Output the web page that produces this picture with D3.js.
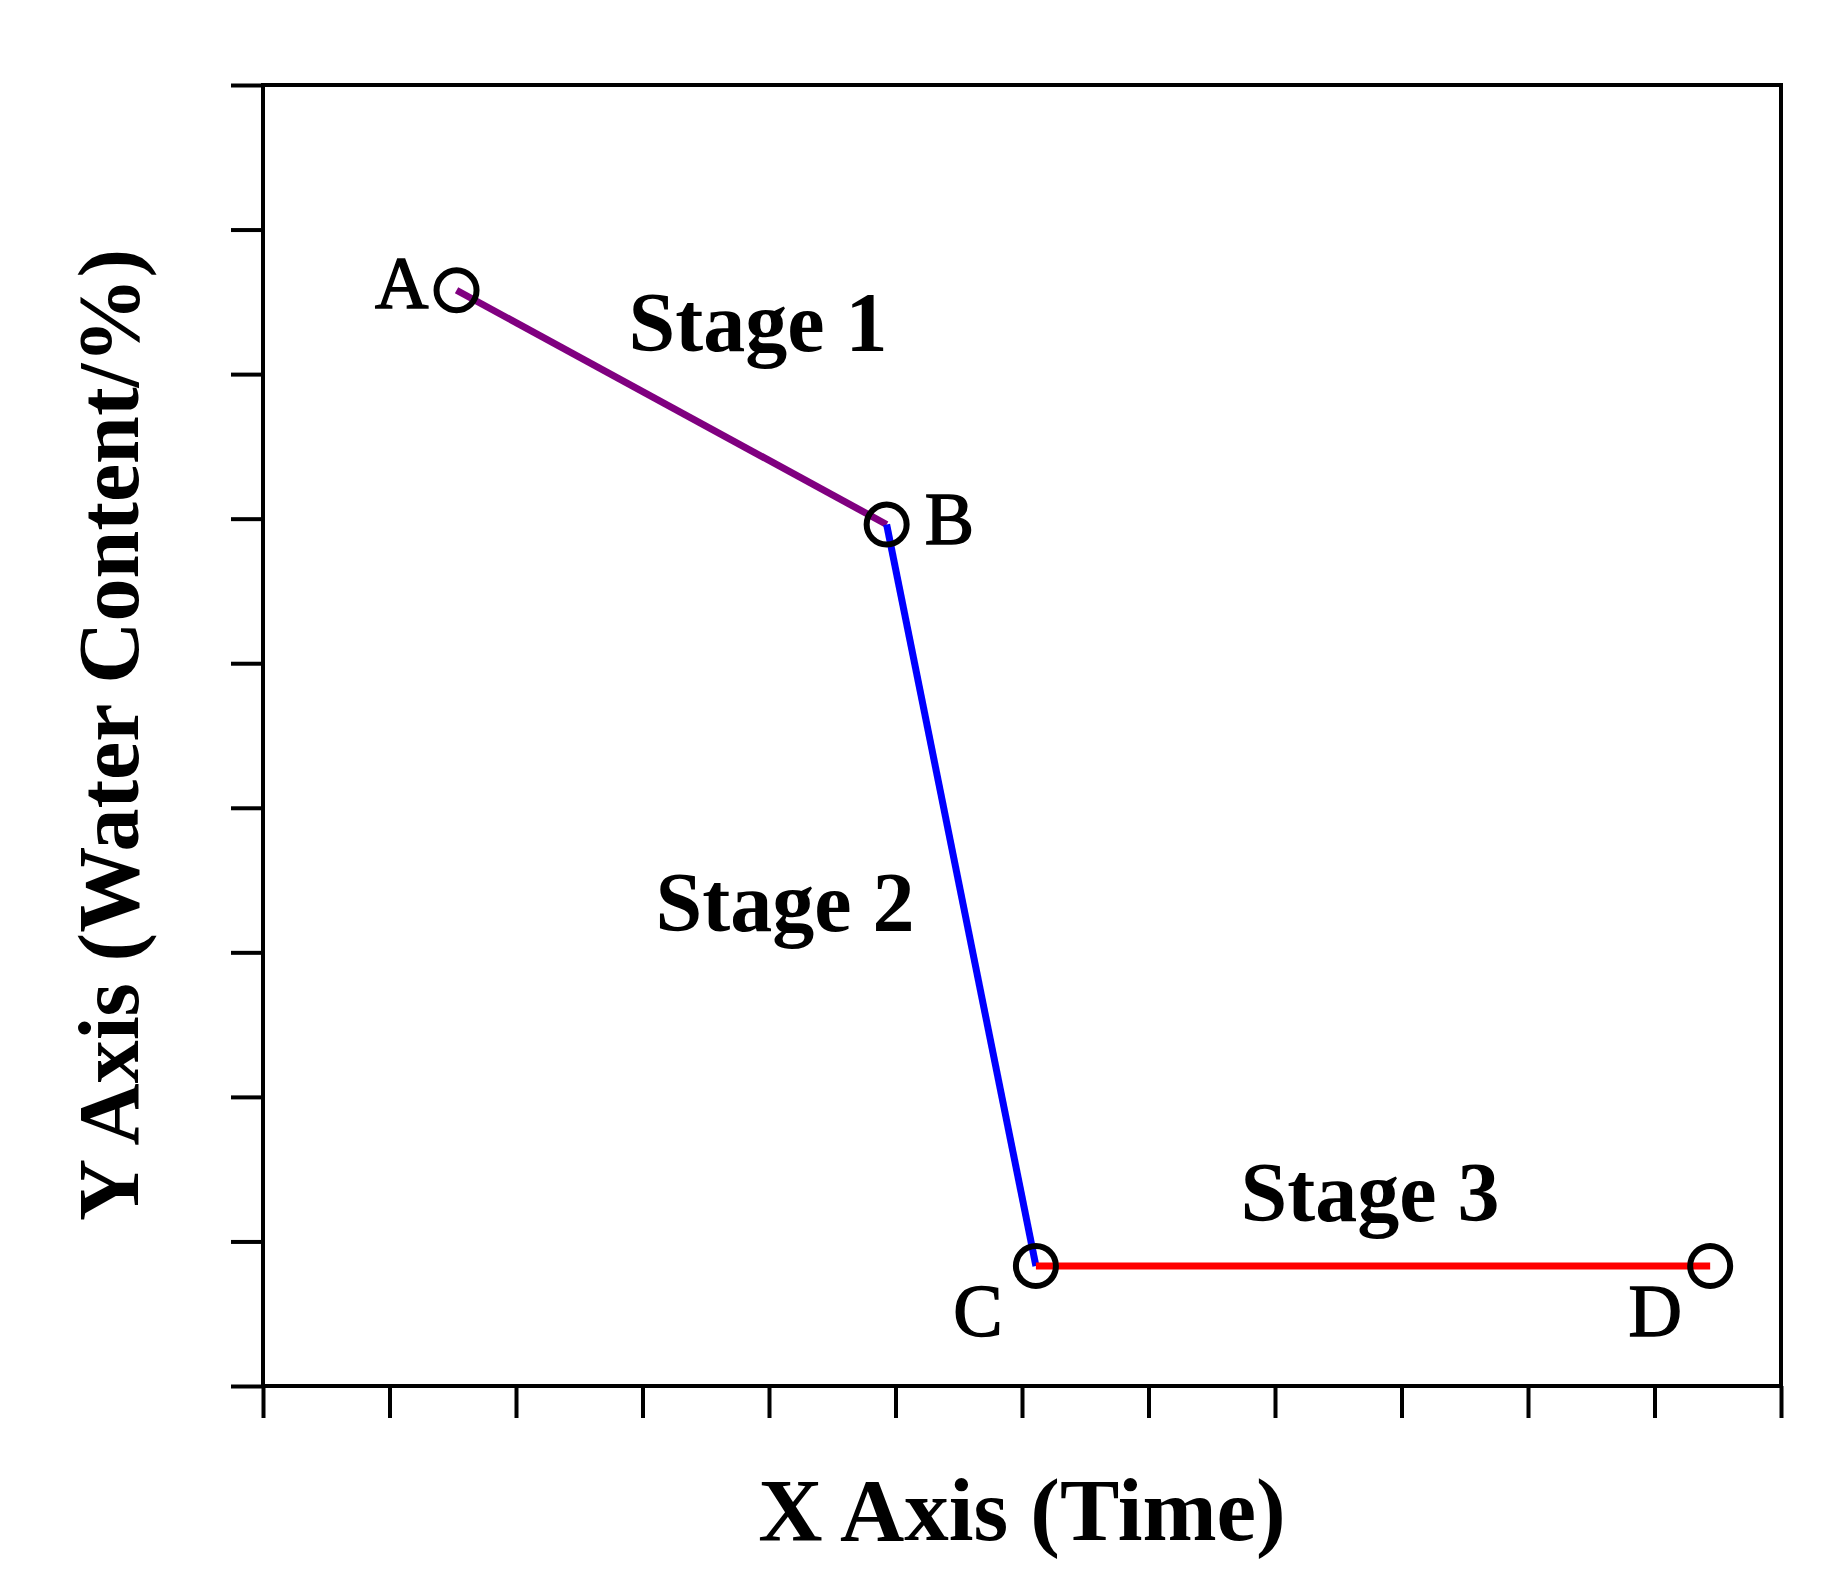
<!DOCTYPE html><html><head><meta charset="utf-8">
<script src="https://cdn.jsdelivr.net/npm/d3@7"></script>
<style>body{margin:0;background:#fff}</style></head><body>
<script>
const pointNames=["A","B","C","D"];
const xVals=[1.53,4.93,6.11,11.44];
const yVals=[7.58,5.96,0.83,0.83];
const segColors=["#800080","#0000ff","#ff0000"];
const stageLabels=["Stage 1","Stage 2","Stage 3"];
const W=1827,H=1586,m={l:263,r:1781,t:85,b:1386};
const svg=d3.select("body").append("svg").attr("width",W).attr("height",H);
const x=d3.scaleLinear().domain([0,12]).range([m.l,m.r]);
const y=d3.scaleLinear().domain([0,9]).range([m.b,m.t]);
const font="Liberation Serif, Times New Roman, serif";
svg.append("rect").attr("x",m.l).attr("y",m.t).attr("width",m.r-m.l).attr("height",m.b-m.t).attr("fill","none").attr("stroke","#000").attr("stroke-width",4);
const gx=svg.append("g").attr("transform",`translate(0,${m.b})`).call(d3.axisBottom(x).ticks(12).tickSize(32).tickFormat(""));
const gy=svg.append("g").attr("transform",`translate(${m.l},0)`).call(d3.axisLeft(y).ticks(9).tickSize(32).tickFormat(""));
[gx,gy].forEach(g=>{g.select(".domain").remove();g.selectAll("line").attr("stroke","#000").attr("stroke-width",4);});
for(let i=0;i<3;i++){
 svg.append("line").attr("x1",x(xVals[i])).attr("y1",y(yVals[i])).attr("x2",x(xVals[i+1])).attr("y2",y(yVals[i+1])).attr("stroke",segColors[i]).attr("stroke-width",7);
}
svg.selectAll("circle.p").data(xVals).join("circle").attr("cx",(d)=>x(d)).attr("cy",(d,i)=>y(yVals[i])).attr("r",20).attr("fill","none").attr("stroke","#000").attr("stroke-width",6);
const lab=[[-28,18,"end"],[38,20,"start"],[-58,70,"middle"],[-55,70,"middle"]];
pointNames.forEach((n,i)=>svg.append("text").attr("x",x(xVals[i])+lab[i][0]).attr("y",y(yVals[i])+lab[i][1]).attr("text-anchor",lab[i][2]).attr("font-family",font).attr("font-size",74).attr("stroke","#000").attr("stroke-width",1.5).text(n));
const sPos=[[758,351],[785,931],[1370,1221]];
stageLabels.forEach((s,i)=>svg.append("text").attr("x",sPos[i][0]).attr("y",sPos[i][1]).attr("text-anchor","middle").attr("font-family",font).attr("font-size",84).attr("font-weight","bold").text(s));
svg.append("text").attr("x",(m.l+m.r)/2).attr("y",1540).attr("text-anchor","middle").attr("font-family",font).attr("font-size",89).attr("font-weight","bold").text("X Axis (Time)");
svg.append("text").attr("transform","translate(138,735) rotate(-90)").attr("text-anchor","middle").attr("font-family",font).attr("font-size",86).attr("font-weight","bold").text("Y Axis (Water Content/%)");
</script></body></html>
